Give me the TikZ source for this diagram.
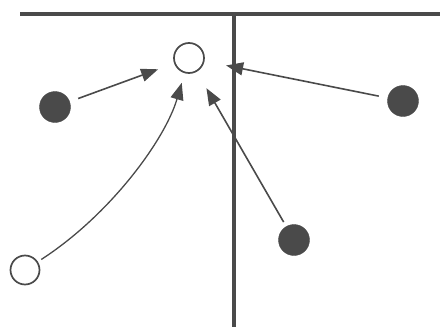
\documentclass[tikz,border=0pt]{standalone}
\usetikzlibrary{arrows.meta}
\definecolor{ink}{HTML}{4A4A4A}
\tikzset{
  filled/.style={circle,fill=ink,draw=ink,minimum size=31pt,inner sep=0pt},
  hollow/.style={circle,draw=ink,line width=1.7pt,fill=white,minimum size=30pt,inner sep=0pt},
  axis/.style={draw=ink,line width=3.5pt},
  arr/.style={draw=ink,line width=1.6pt,-{Triangle[length=17pt,width=13pt]}}
}
\begin{document}
\begin{tikzpicture}[x=1pt,y=-1pt]
\useasboundingbox (0,0) rectangle (440,327);
\coordinate (hl) at (20,14);
\coordinate (hr) at (440,14);
\coordinate (vt) at (234,14);
\coordinate (vb) at (234,327);
\draw[axis] (hl) -- (hr);
\draw[axis] (vt) -- (vb);
\node[hollow] (top) at (189,58) {};
\node[filled] (left) at (55,107) {};
\node[filled] (right) at (403,101) {};
\node[filled] (bot) at (294,240) {};
\node[hollow,minimum size=29pt] (bl) at (25,270) {};
\draw[arr,shorten <=9pt,shorten >=17pt] (left) -- (top);
\draw[arr,shorten <=9pt,shorten >=22pt] (right) -- (top);
\draw[arr,shorten <=5pt,shorten >=19pt] (bot) -- (top);
\draw[arr,line width=1.3pt,shorten <=4pt,shorten >=10pt] (bl) .. controls (110,215) and (165,140) .. (top);
\end{tikzpicture}
\end{document}
